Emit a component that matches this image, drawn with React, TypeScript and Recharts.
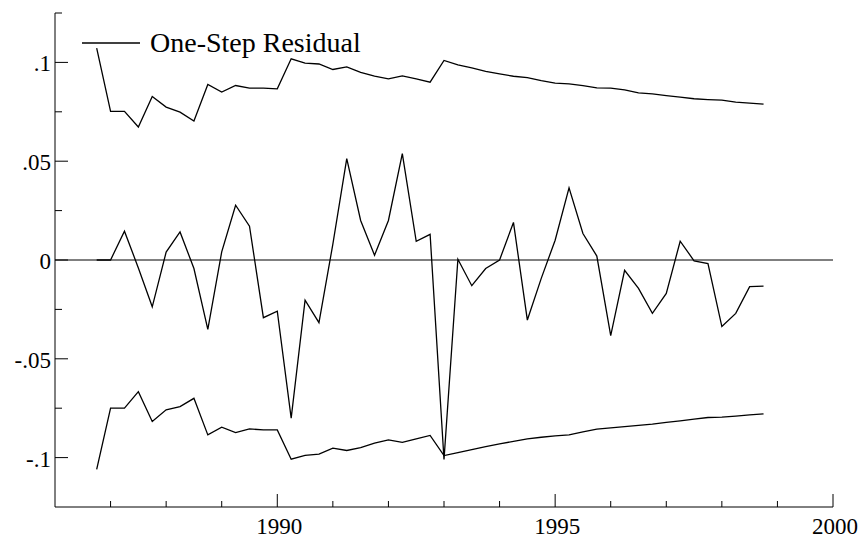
import React from 'react';
import { LineChart, Line, XAxis, YAxis, ReferenceLine, Legend } from 'recharts';

const periods = [
  1986.75, 1987.0, 1987.25, 1987.5, 1987.75, 1988.0, 1988.25, 1988.5, 1988.75,
  1989.0, 1989.25, 1989.5, 1989.75, 1990.0, 1990.25, 1990.5, 1990.75,
  1991.0, 1991.25, 1991.5, 1991.75, 1992.0, 1992.25, 1992.5, 1992.75,
  1993.0, 1993.25, 1993.5, 1993.75, 1994.0, 1994.25, 1994.5, 1994.75,
  1995.0, 1995.25, 1995.5, 1995.75, 1996.0, 1996.25, 1996.5, 1996.75,
  1997.0, 1997.25, 1997.5, 1997.75, 1998.0, 1998.25, 1998.5, 1998.75,
];

const residual = [
  0, 0, 0.0146, -0.004, -0.0237, 0.004, 0.0142, -0.0043, -0.0351,
  0.0041, 0.0277, 0.0171, -0.0292, -0.0259, -0.08, -0.0203, -0.0317,
  0.008, 0.0513, 0.02, 0.0024, 0.02, 0.0538, 0.0095, 0.013,
  -0.101, 0.0004, -0.013, -0.0043, 0.0, 0.019, -0.0304, -0.0093,
  0.01, 0.0365, 0.0134, 0.002, -0.0383, -0.0052, -0.0144, -0.027,
  -0.0169, 0.0095, -0.0004, -0.0018, -0.0337, -0.027, -0.0135, -0.0132,
];

const upperBand = [
  0.1072, 0.0752, 0.0752, 0.0673, 0.0827, 0.0774, 0.0748, 0.0703, 0.0888,
  0.085, 0.0883, 0.087, 0.087, 0.0866, 0.1018, 0.0996, 0.0992,
  0.0964, 0.0977, 0.095, 0.093, 0.0917, 0.0932, 0.0917, 0.09,
  0.101, 0.0987, 0.0972, 0.0955, 0.0942, 0.093, 0.0923, 0.0908,
  0.0895, 0.0891, 0.0883, 0.0871, 0.087, 0.0861, 0.0846, 0.0841,
  0.0832, 0.0824, 0.0816, 0.0812, 0.0809, 0.0799, 0.0794, 0.0789,
];

const lowerBand = [
  -0.106, -0.075, -0.075, -0.0666, -0.0817, -0.0758, -0.0742, -0.07, -0.0885,
  -0.0846, -0.0873, -0.0855, -0.086, -0.086, -0.1008, -0.0989, -0.0982,
  -0.0952, -0.0964, -0.0949, -0.0927, -0.091, -0.0923, -0.0905, -0.0888,
  -0.099, -0.0975, -0.096, -0.0945, -0.093, -0.0918, -0.0905, -0.0897,
  -0.089, -0.0885, -0.087, -0.0856, -0.085, -0.0843, -0.0837, -0.0831,
  -0.0822, -0.0814, -0.0805, -0.0797, -0.0795, -0.079, -0.0784, -0.0779,
];

const xTicks = [1986, 1987, 1988, 1989, 1990, 1991, 1992, 1993, 1994, 1995, 1996, 1997, 1998, 1999, 2000];
const xTickLabels = ['', '', '', '', '1990', '', '', '', '', '1995', '', '', '', '', '2000'];

const yTicks = [-0.125, -0.1, -0.075, -0.05, -0.025, 0, 0.025, 0.05, 0.075, 0.1, 0.125];
const yTickLabels = ['', '-.1', '', '-.05', '', '0', '', '.05', '', '.1', ''];

const legendLabel = 'One-Step Residual';

const data = periods.map((t, i) => ({
  t,
  residual: residual[i],
  upper: upperBand[i],
  lower: lowerBand[i],
}));

const FONT = '"Liberation Serif", "Times New Roman", serif';

const XTick = (props: any) => {
  const { x, y, payload } = props;
  const idx = xTicks.indexOf(payload.value);
  const label = idx >= 0 ? xTickLabels[idx] : '';
  if (payload.value === 1986) return <g />;
  const len = label ? 13 : 6;
  return (
    <g>
      <line x1={x} y1={y} x2={x} y2={y - len} stroke="#000" strokeWidth={1} />
      {label ? (
        <text x={x + 2} y={y + 27} textAnchor="middle" fontFamily={FONT} fontSize={23} fill="#000">
          {label}
        </text>
      ) : null}
    </g>
  );
};

const YTick = (props: any) => {
  const { x, y, payload } = props;
  const idx = yTicks.findIndex((v) => Math.abs(v - payload.value) < 1e-9);
  const label = idx >= 0 ? yTickLabels[idx] : '';
  if (Math.abs(payload.value + 0.125) < 1e-9) return <g />;
  const len = label ? 13 : 7;
  return (
    <g>
      <line x1={x} y1={y} x2={x + len} y2={y} stroke="#000" strokeWidth={1} />
      {label ? (
        <text x={x - 4} y={y + 9} textAnchor="end" fontFamily={FONT} fontSize={23} fill="#000">
          {label}
        </text>
      ) : null}
    </g>
  );
};

const LegendContent = () => (
  <svg width={320} height={40} style={{ display: 'block', overflow: 'visible' }}>
    <line x1={0} y1={17} x2={58} y2={17} stroke="#000" strokeWidth={1.3} />
    <text x={68} y={26} fontFamily={FONT} fontSize={28} fill="#000">
      {legendLabel}
    </text>
  </svg>
);

export default function App() {
  return (
    <div style={{ position: 'absolute', left: 0, top: 0, background: '#fff' }}>
      <LineChart width={864} height={539} data={data} margin={{ top: 13, right: 31, bottom: 0, left: 5 }}>
        <XAxis
          dataKey="t"
          type="number"
          domain={[1986, 2000]}
          ticks={xTicks}
          tick={<XTick />}
          tickLine={false}
          tickSize={0}
          tickMargin={0}
          height={32}
          axisLine={{ stroke: '#000', strokeWidth: 1 }}
          allowDataOverflow
          interval={0}
        />
        <YAxis
          type="number"
          domain={[-0.125, 0.125]}
          ticks={yTicks}
          tick={<YTick />}
          tickLine={false}
          tickSize={0}
          tickMargin={0}
          width={50}
          axisLine={{ stroke: '#000', strokeWidth: 1 }}
          allowDataOverflow
          interval={0}
        />
        <ReferenceLine y={0} stroke="#000" strokeWidth={1} ifOverflow="extendDomain" />
        <Line dataKey="upper" stroke="#000" strokeWidth={1.3} dot={false} isAnimationActive={false} />
        <Line dataKey="lower" stroke="#000" strokeWidth={1.3} dot={false} isAnimationActive={false} />
        <Line dataKey="residual" stroke="#000" strokeWidth={1.3} dot={false} isAnimationActive={false} />
        <Legend
          layout="horizontal"
          verticalAlign="middle"
          align="center"
          content={<LegendContent />}
          wrapperStyle={{ position: 'absolute', left: 82, top: 26, width: 320, height: 40 }}
        />
      </LineChart>
    </div>
  );
}
